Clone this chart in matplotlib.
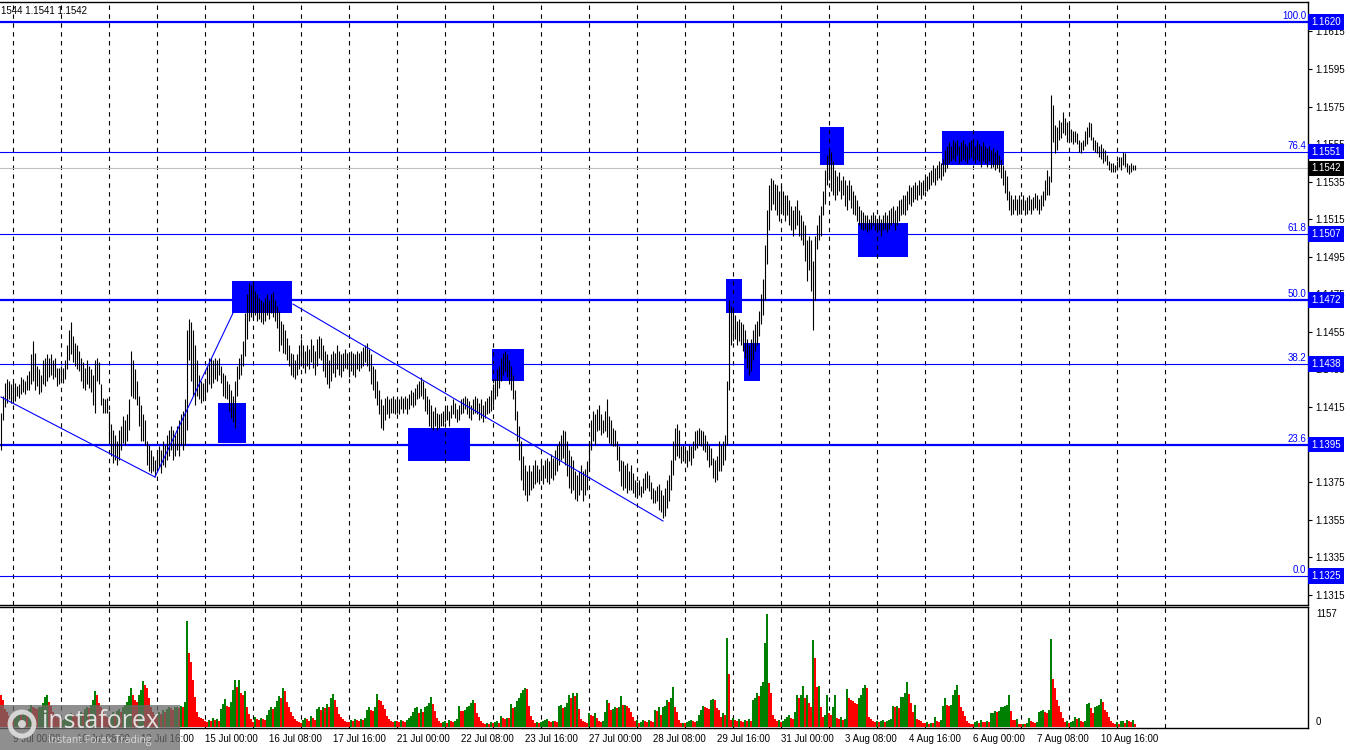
import numpy as np
import matplotlib
matplotlib.use('Agg')
import matplotlib.pyplot as plt
import matplotlib.transforms as mtransforms
from matplotlib.patches import Rectangle, Circle

plt.rcParams['font.family'] = ['Liberation Sans', 'DejaVu Sans']

# EURUSD H1, bar 0 = 8 Jul 18:00; highs / lows in pips above 1.1300
highs = [
    112, 121, 128, 130, 129, 127,
    129, 128, 126, 127, 131, 130, 129, 132, 134, 143, 150, 144, 137, 135, 132, 140, 141, 143, 141, 143, 140, 141, 136, 136,  # 9 Jul
    137, 136, 140, 148, 156, 160, 153, 149, 148, 145, 141, 139, 136, 140, 137, 135, 132, 140, 141, 139, 127, 120, 119, 120,  # 10 Jul
    113, 106, 103, 100, 97, 103, 105, 110, 108, 111, 119, 145, 140, 135, 129, 121, 116, 111, 108, 97, 95, 92, 89, 87,  # 13 Jul
    92, 94, 92, 97, 95, 100, 103, 105, 103, 100, 105, 108, 111, 113, 119, 156, 162, 160, 156, 148, 140, 132, 129, 128,  # 14 Jul
    130, 137, 141, 141, 140, 141, 140, 141, 137, 133, 132, 129, 127, 124, 121, 129, 137, 141, 143, 150, 165, 175, 181, 180,  # 15 Jul
    182, 177, 175, 173, 172, 171, 173, 175, 172, 175, 176, 172, 169, 166, 161, 159, 156, 152, 148, 144, 143, 140, 143, 148,  # 16 Jul
    151, 148, 145, 148, 146, 151, 148, 145, 151, 153, 152, 148, 145, 143, 140, 143, 145, 144, 148, 145, 143, 144, 146, 144,  # 17 Jul
    143, 145, 144, 143, 145, 144, 145, 147, 148, 149, 146, 143, 137, 135, 129, 124, 119, 116, 120, 121, 119, 120, 121, 119,  # 20 Jul
    120, 119, 121, 120, 121, 120, 122, 124, 123, 125, 127, 129, 131, 129, 125, 121, 119, 116, 113, 115, 112, 111, 112, 113,  # 21 Jul
    114, 116, 113, 116, 119, 117, 114, 116, 119, 120, 121, 120, 118, 116, 119, 121, 120, 117, 119, 116, 118, 120, 121, 124,  # 22 Jul
    127, 130, 135, 137, 141, 144, 145, 143, 140, 137, 132, 124, 113, 105, 97, 89, 84, 81, 84, 81, 84, 87, 84, 82,  # 23 Jul
    86, 84, 87, 88, 86, 90, 88, 92, 95, 97, 100, 103, 102, 97, 92, 89, 87, 81, 79, 81, 84, 81, 82, 86,  # 24 Jul
    97, 108, 113, 111, 114, 116, 111, 108, 113, 119, 110, 108, 104, 103, 97, 94, 87, 86, 84, 85, 81, 84, 80, 76,  # 27 Jul
    75, 76, 73, 77, 80, 81, 79, 75, 72, 71, 73, 74, 71, 68, 72, 76, 79, 87, 97, 104, 106, 103, 94, 95,  # 28 Jul
    94, 92, 95, 94, 97, 102, 103, 104, 103, 102, 100, 97, 95, 93, 88, 87, 89, 97, 95, 97, 100, 129, 172, 169,  # 29 Jul
    166, 164, 161, 162, 160, 159, 156, 151, 148, 151, 156, 159, 161, 166, 175, 183, 201, 220, 233, 237, 236, 234, 233, 230,  # 30 Jul
    233, 230, 228, 228, 225, 222, 220, 222, 225, 220, 217, 214, 212, 204, 206, 204, 193, 206, 212, 217, 222, 230, 241, 249,  # 31 Jul
    252, 251, 246, 241, 238, 240, 236, 238, 236, 233, 236, 233, 230, 228, 225, 222, 220, 219, 217, 217, 215, 217, 219, 217,  # 3 Aug
    215, 217, 215, 217, 219, 217, 220, 221, 222, 220, 222, 225, 226, 228, 228, 230, 233, 232, 233, 235, 233, 236, 235, 236,  # 4 Aug
    237, 238, 240, 241, 244, 242, 244, 246, 245, 247, 252, 254, 256, 254, 257, 256, 257, 254, 256, 257, 255, 254, 256, 257,  # 5 Aug
    256, 254, 257, 255, 254, 256, 254, 253, 254, 252, 253, 251, 252, 249, 247, 244, 241, 238, 230, 228, 226, 228, 226, 228,  # 6 Aug
    226, 228, 225, 227, 228, 226, 227, 229, 228, 226, 228, 230, 236, 241, 238, 281, 276, 265, 264, 268, 267, 272, 269, 267,  # 7 Aug
    266, 263, 262, 262, 261, 257, 256, 257, 262, 264, 267, 266, 259, 257, 256, 254, 255, 253, 252, 249, 246, 245, 245, 244,  # 10 Aug
    246, 248, 248, 251, 250, 245, 244, 245, 244, 244,  # 11 Aug
]
lows = [
    92, 108, 115, 117, 119, 117,
    117, 118, 121, 120, 122, 123, 122, 124, 124, 127, 129, 124, 126, 122, 123, 127, 126, 129, 131, 132, 130, 131, 126, 127,
    129, 128, 130, 135, 140, 143, 139, 137, 135, 134, 129, 125, 124, 127, 125, 123, 116, 112, 129, 127, 116, 112, 112, 112,
    97, 89, 85, 87, 84, 87, 92, 96, 95, 97, 103, 121, 120, 119, 116, 105, 97, 97, 95, 84, 81, 80, 81, 78,
    81, 83, 80, 84, 83, 87, 89, 92, 87, 89, 92, 89, 95, 92, 95, 103, 140, 129, 121, 116, 121, 119, 117, 118,
    119, 123, 127, 125, 128, 130, 129, 132, 128, 121, 120, 119, 113, 109, 107, 104, 121, 130, 132, 137, 142, 151, 161, 163,
    162, 164, 161, 162, 160, 159, 161, 164, 162, 165, 163, 161, 157, 145, 148, 144, 143, 140, 137, 132, 131, 130, 132, 135,
    137, 136, 133, 137, 135, 139, 136, 132, 137, 141, 140, 134, 131, 127, 125, 129, 133, 131, 135, 132, 131, 134, 136, 135,
    131, 134, 132, 131, 135, 134, 136, 137, 139, 137, 134, 127, 124, 120, 116, 111, 104, 103, 108, 111, 109, 112, 112, 111,
    112, 111, 114, 112, 114, 111, 114, 116, 115, 116, 119, 120, 121, 119, 113, 111, 105, 104, 103, 105, 103, 104, 105, 105,
    107, 108, 105, 109, 111, 109, 107, 108, 111, 112, 114, 111, 109, 108, 111, 112, 111, 108, 109, 107, 109, 111, 112, 113,
    116, 119, 121, 125, 129, 132, 134, 131, 127, 124, 119, 108, 97, 87, 76, 71, 68, 65, 68, 71, 72, 74, 75, 74,
    76, 74, 77, 75, 74, 77, 76, 79, 81, 84, 87, 88, 84, 78, 72, 69, 71, 66, 65, 68, 71, 65, 68, 71,
    81, 92, 97, 95, 102, 103, 100, 101, 102, 99, 96, 95, 94, 94, 87, 81, 73, 71, 72, 69, 71, 71, 69, 67,
    67, 68, 67, 69, 71, 72, 70, 66, 64, 64, 65, 60, 59, 56, 57, 61, 65, 71, 79, 87, 89, 88, 85, 86,
    85, 83, 86, 84, 88, 92, 93, 95, 94, 92, 91, 87, 83, 84, 77, 75, 76, 81, 81, 84, 87, 95, 124, 148,
    150, 151, 148, 150, 148, 145, 141, 136, 132, 134, 140, 145, 148, 153, 159, 164, 172, 191, 209, 220, 223, 220, 217, 214,
    219, 217, 214, 217, 212, 209, 206, 210, 212, 206, 204, 201, 193, 182, 188, 177, 156, 172, 199, 204, 206, 217, 223, 233,
    236, 230, 228, 225, 228, 230, 226, 228, 222, 220, 225, 221, 218, 217, 214, 212, 210, 209, 210, 208, 209, 210, 212, 209,
    208, 209, 206, 209, 210, 208, 210, 212, 213, 209, 212, 214, 217, 218, 217, 220, 223, 222, 224, 226, 225, 228, 226, 228,
    230, 230, 231, 233, 235, 233, 236, 237, 236, 238, 240, 242, 245, 246, 247, 246, 249, 245, 246, 247, 246, 245, 247, 248,
    247, 245, 247, 246, 243, 246, 245, 243, 246, 242, 243, 241, 242, 240, 237, 233, 229, 225, 220, 217, 218, 220, 217, 218,
    218, 220, 217, 218, 220, 218, 220, 221, 220, 218, 220, 222, 225, 228, 228, 235, 256, 250, 252, 257, 258, 261, 260, 256,
    257, 256, 255, 256, 255, 251, 250, 252, 254, 255, 259, 257, 252, 251, 250, 248, 247, 245, 246, 244, 241, 240, 240, 240,
    241, 243, 241, 244, 243, 240, 239, 240, 241, 241,
]
volumes = [
    330, 280, 180, 150, 110, 90,
    80, 90, 110, 130, 120, 150, 170, 160, 180, 230, 200, 190, 180, 200, 210, 250, 310, 330, 260, 220, 150, 120, 100, 90,
    60, 70, 80, 100, 120, 140, 130, 110, 100, 120, 150, 140, 180, 200, 190, 230, 280, 370, 330, 250, 200, 160, 120, 100,
    80, 120, 150, 130, 160, 180, 150, 200, 230, 260, 320, 400, 330, 280, 260, 330, 380, 470, 430, 400, 300, 200, 150, 120,
    100, 150, 130, 170, 150, 180, 200, 190, 170, 200, 210, 190, 220, 200, 260, 1085, 757, 665, 481, 307, 150, 100, 90, 80,
    60, 50, 70, 60, 90, 70, 80, 60, 180, 240, 290, 220, 210, 260, 380, 480, 410, 485, 350, 330, 370, 210, 130, 80,
    50, 100, 80, 70, 90, 80, 70, 120, 170, 200, 180, 200, 270, 320, 300, 400, 370, 260, 200, 150, 110, 80, 60, 50,
    40, 70, 90, 80, 60, 110, 90, 70, 180, 200, 170, 210, 190, 240, 200, 300, 340, 280, 200, 130, 100, 80, 60, 50,
    50, 70, 60, 80, 70, 60, 80, 70, 90, 170, 200, 170, 160, 200, 340, 280, 270, 230, 180, 110, 80, 60, 50, 60,
    60, 50, 70, 60, 50, 70, 90, 110, 150, 190, 210, 140, 180, 150, 200, 220, 250, 310, 240, 160, 90, 60, 40, 50,
    60, 40, 70, 60, 50, 60, 80, 215, 160, 160, 170, 200, 215, 250, 280, 250, 140, 100, 60, 40, 30, 40, 35, 50,
    40, 50, 60, 40, 110, 90, 85, 95, 90, 240, 190, 210, 270, 300, 350, 380, 400, 390, 220, 110, 70, 40, 50, 45,
    50, 60, 70, 80, 60, 50, 65, 60, 50, 215, 225, 190, 210, 250, 330, 300, 350, 320, 350, 185, 80, 60, 50, 45,
    140, 120, 110, 140, 90, 60, 50, 60, 150, 276, 245, 174, 180, 205, 190, 200, 317, 225, 230, 220, 195, 150, 100, 60,
    70, 40, 50, 70, 60, 50, 70, 60, 50, 174, 160, 205, 120, 210, 215, 280, 260, 300, 410, 205, 150, 70, 40, 45,
    40, 50, 60, 70, 65, 55, 60, 120, 170, 215, 200, 190, 180, 280, 290, 275, 190, 170, 100, 140, 120, 911, 542, 70,
    90, 70, 60, 80, 60, 50, 70, 60, 80, 60, 276, 300, 350, 320, 420, 460, 860, 1157, 450, 350, 120, 80, 60, 70,
    50, 60, 80, 100, 120, 90, 80, 150, 330, 300, 330, 420, 300, 330, 250, 200, 890, 706, 410, 415, 200, 100, 120, 330,
    140, 120, 200, 330, 90, 80, 100, 70, 80, 390, 300, 280, 270, 250, 240, 300, 330, 400, 430, 400, 100, 80, 60, 50,
    60, 50, 60, 70, 50, 60, 70, 80, 215, 200, 220, 190, 305, 310, 350, 460, 340, 245, 150, 225, 80, 70, 60, 40,
    40, 50, 30, 45, 40, 100, 60, 55, 70, 215, 295, 225, 220, 225, 330, 380, 430, 330, 200, 160, 110, 60, 40, 30,
    30, 50, 60, 40, 75, 55, 50, 60, 55, 140, 145, 160, 155, 160, 205, 210, 215, 230, 330, 165, 75, 70, 80, 30,
    30, 35, 30, 40, 90, 60, 50, 45, 50, 150, 160, 170, 155, 140, 175, 900, 490, 400, 280, 215, 150, 90, 50, 60,
    40, 50, 60, 100, 85, 90, 60, 50, 60, 235, 245, 195, 140, 200, 215, 230, 287, 255, 175, 150, 100, 60, 40, 30,
    50, 30, 60, 65, 45, 70, 65, 50, 70, 30,
]
vol_max = 1157
last_close = 1.1542
header = "1544 1.1541 1.1542"

# Fibonacci grid
fib_pct = [100.0, 76.4, 61.8, 50.0, 38.2, 23.6, 0.0]
fib_price = [1.1620, 1.1551, 1.1507, 1.1472, 1.1438, 1.1395, 1.1325]

# blue zones: first bar, last bar, top, bottom
zone_start = [116, 109, 204, 246, 363, 372, 410, 429, 471]
zone_end = [146, 123, 235, 262, 371, 380, 422, 454, 502]
zone_top = [1.1482, 1.1417, 1.1404, 1.1446, 1.1483, 1.1449, 1.1564, 1.1513, 1.1562]
zone_bottom = [1.1465, 1.1396, 1.1386, 1.1429, 1.1465, 1.1429, 1.1544, 1.1495, 1.1544]

# trend lines
trend_k = [(0, 77), (77, 116), (146, 331)]
trend_p = [(1.14203, 1.13777), (1.13777, 1.14650), (1.14698, 1.13543)]

# time axis: one label every 32 bars from 9 Jul 00:00 (bar 6), a day every 24 bars
date_labels = ['9 Jul 00:00', '10 Jul 08:00', '13 Jul 16:00', '15 Jul 00:00', '16 Jul 08:00',
               '17 Jul 16:00', '21 Jul 00:00', '22 Jul 08:00', '23 Jul 16:00', '27 Jul 00:00',
               '28 Jul 08:00', '29 Jul 16:00', '31 Jul 00:00', '3 Aug 08:00', '4 Aug 16:00',
               '6 Aug 00:00', '7 Aug 08:00', '10 Aug 16:00']
first_day_bar = 6
n_days = 25

BLUE = '#0000FF'
FS = 7
W, H = 1350, 750

fig = plt.figure(figsize=(W / 100, H / 100), dpi=100)
fig.patch.set_facecolor('white')
ax = fig.add_axes([0, 1 - 605 / H, 1308 / W, 603 / H])
axv = fig.add_axes([0, 1 - 728 / H, 1308 / W, 121 / H])

n = min(len(highs), len(lows), len(volumes))
k = np.arange(n)
hi = 1.13 + np.array(highs[:n]) / 1e4
lo = 1.13 + np.array(lows[:n]) / 1e4
vol = np.array(volumes[:n])

ax.set_xlim(-0.5, 653.5)
axv.set_xlim(-0.5, 653.5)
ax.set_ylim(1.130956, 1.163065)
axv.set_ylim(-10, 1229)

# zones in the background
for s, e, t, b in zip(zone_start, zone_end, zone_top, zone_bottom):
    ax.add_patch(Rectangle((s - 0.5, b), e - s, t - b, fc=BLUE, ec='none', zorder=1))

# day separators
for d in range(n_days):
    xg = first_day_bar + 24 * d
    for a in (ax, axv):
        a.axvline(xg, color='black', lw=0.8, ls=(0, (4, 4)), zorder=2)

blend = mtransforms.blended_transform_factory(ax.transAxes, ax.transData)

# current price line
ax.axhline(last_close, color='#C0C0C0', lw=0.8, zorder=2.2)

for pct, p in zip(fib_pct, fib_price):
    thick = pct in (100.0, 50.0, 23.6)
    ax.axhline(p, color=BLUE, lw=1.6 if thick else 0.8, zorder=3)
    ax.text(0.9985, p + 0.00004, f'{pct:.1f}', transform=blend, ha='right', va='bottom',
            color=BLUE, fontsize=FS)
    ax.text(1.0025, p, f'{p:.4f}', transform=blend, ha='left', va='center', color='white',
            fontsize=FS, clip_on=False, zorder=10,
            bbox=dict(boxstyle='square,pad=0.3', fc=BLUE, ec='none'))

ax.text(1.0025, last_close, f'{last_close:.4f}', transform=blend, ha='left', va='center',
        color='white', fontsize=FS, clip_on=False, zorder=10,
        bbox=dict(boxstyle='square,pad=0.3', fc='black', ec='none'))

# price bars
ax.vlines(k, lo, hi, color='black', lw=0.8, zorder=4)

for (k0, k1), (p0, p1) in zip(trend_k, trend_p):
    ax.plot([k0, k1], [p0, p1], color=BLUE, lw=0.8, zorder=5)

# volumes, green when rising
colors = ['#FF0000'] + ['#008000' if vol[i] > vol[i - 1] else '#FF0000' for i in range(1, n)]
axv.bar(k, vol, width=1.0, color=colors, linewidth=0, zorder=3)

# axes styling
for a in (ax, axv):
    a.spines['left'].set_visible(False)
    for s in ('top', 'bottom', 'right'):
        a.spines[s].set_linewidth(1.0)
    a.set_xticks([])
    a.yaxis.tick_right()
    a.tick_params(axis='y', length=3, width=0.8, pad=2, labelsize=FS, colors='black')

# price scale; the 1.1395 label sits under the 23.6 box
yt = np.round(np.arange(1.1315, 1.1616, 0.0020), 4)
yt = yt[np.abs(yt - 1.1395) > 1e-6]
ax.set_yticks(yt)
ax.set_yticklabels([f'{v:.4f}' for v in yt])

axv.set_yticks([])
vb = mtransforms.blended_transform_factory(axv.transAxes, axv.transData)
axv.text(1.006, vol_max, str(vol_max), transform=vb, ha='left', va='center', fontsize=FS)
axv.text(1.006, 0, '0', transform=vb, ha='left', va='bottom', fontsize=FS)

tb = mtransforms.blended_transform_factory(axv.transData, axv.transAxes)
for i, lab in enumerate(date_labels):
    axv.text(first_day_bar + 32 * i, -0.09, lab, transform=tb, ha='left', va='center',
             fontsize=FS, clip_on=False)

fig.text(0.0005, 1 - 11 / H, header, ha='left', va='center', fontsize=FS)

# watermark
fig.patches.append(Rectangle((0, 0), 180 / W, 45 / H, transform=fig.transFigure,
                             fc='#6a6a6a', ec='none', alpha=0.75, zorder=20))
fig.patches.append(Circle((22, 26), 12, transform=mtransforms.IdentityTransform(),
                          fc='none', ec='#e0e0e0', lw=3.5, alpha=0.9, zorder=21))
fig.patches.append(Circle((22, 26), 4, transform=mtransforms.IdentityTransform(),
                          fc='#e0e0e0', ec='none', alpha=0.9, zorder=21))
fig.text(42 / W, 1 - 721 / H, 'instaforex', ha='left', va='center', fontsize=18,
         family='Open Sans', color='#eeeeee', alpha=0.9, zorder=22)
fig.text(48 / W, 1 - 741 / H, 'Instant Forex Trading', ha='left', va='center', fontsize=7.5,
         family='Open Sans', color='#dddddd', alpha=0.9, zorder=22)

fig.savefig('out.png', dpi=100, facecolor='white')
